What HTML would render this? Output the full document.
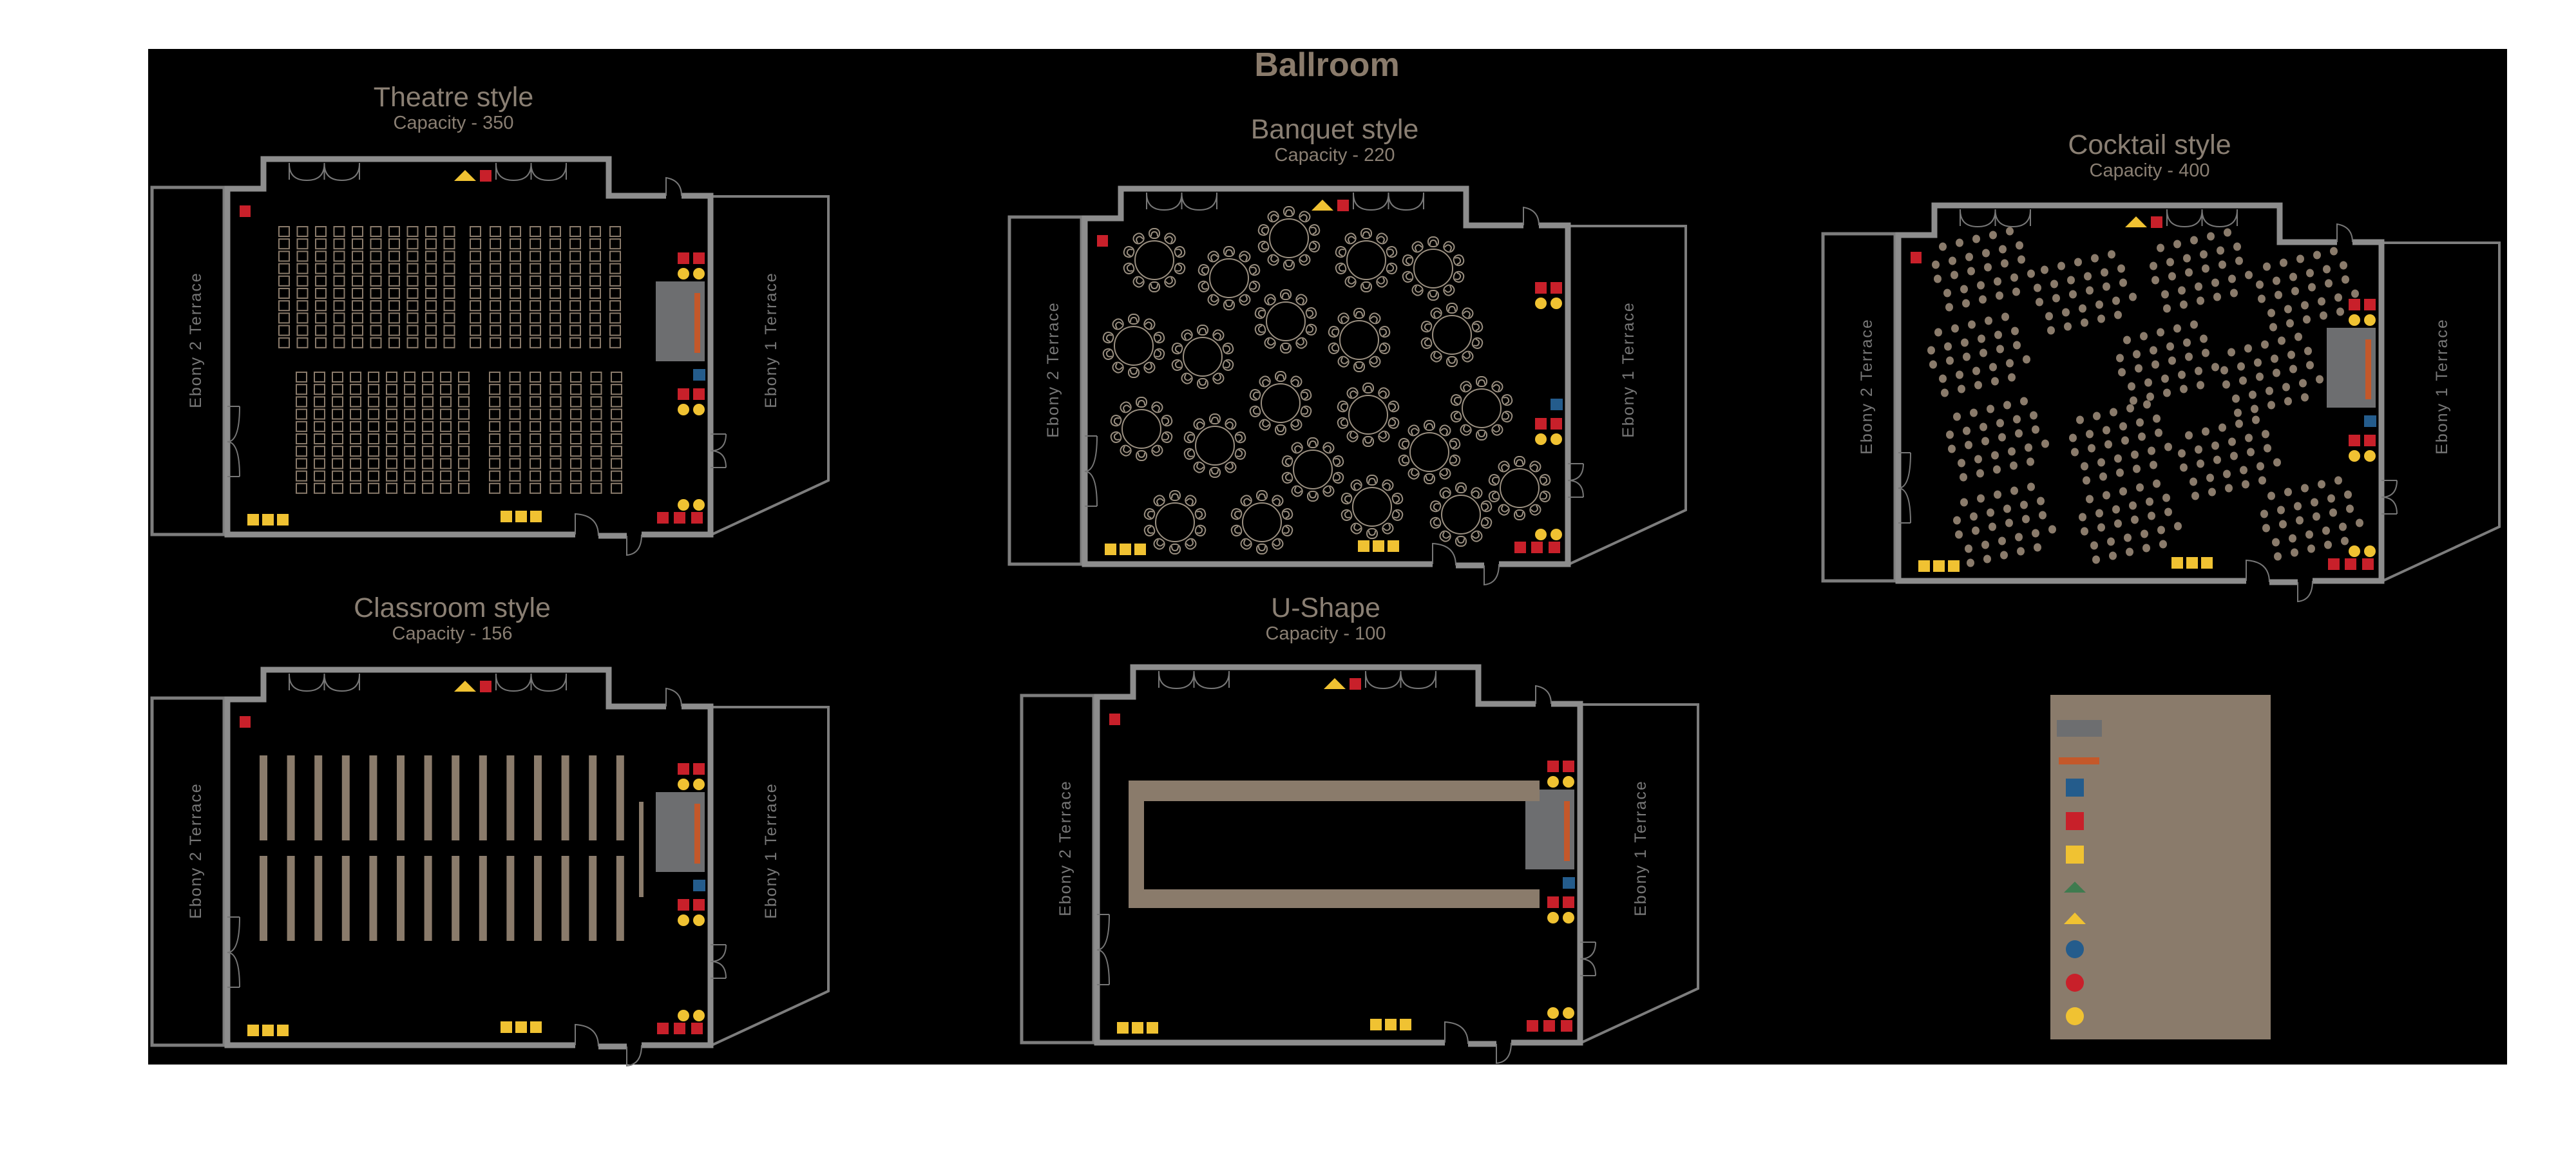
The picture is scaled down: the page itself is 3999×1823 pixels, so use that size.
<!DOCTYPE html>
<html><head><meta charset="utf-8">
<style>
html,body{margin:0;padding:0;background:#fff;}
svg{display:block;}
text{font-family:"Liberation Sans",sans-serif;}
</style></head>
<body>
<svg id="s" xmlns="http://www.w3.org/2000/svg" width="3999" height="1823" viewBox="0 0 3999 1823">
<rect x="0" y="0" width="3999" height="1823" fill="#fff"/>
<rect x="230" y="76" width="3662" height="1577" fill="#000"/>
<text x="2060" y="118" text-anchor="middle" font-size="52" font-weight="bold" fill="#8a7b6b">Ballroom</text>

<text x="704" y="165" text-anchor="middle" font-size="43" fill="#8a7f73">Theatre style</text>
<text x="704" y="200" text-anchor="middle" font-size="29" fill="#8a7f73">Capacity - 350</text>

<text x="2072" y="215" text-anchor="middle" font-size="43" fill="#8a7f73">Banquet style</text>
<text x="2072" y="250" text-anchor="middle" font-size="29" fill="#8a7f73">Capacity - 220</text>

<text x="3337" y="239" text-anchor="middle" font-size="43" fill="#8a7f73">Cocktail style</text>
<text x="3337" y="274" text-anchor="middle" font-size="29" fill="#8a7f73">Capacity - 400</text>

<text x="702" y="958" text-anchor="middle" font-size="43" fill="#8a7f73">Classroom style</text>
<text x="702" y="993" text-anchor="middle" font-size="29" fill="#8a7f73">Capacity - 156</text>

<text x="2058" y="958" text-anchor="middle" font-size="43" fill="#8a7f73">U-Shape</text>
<text x="2058" y="993" text-anchor="middle" font-size="29" fill="#8a7f73">Capacity - 100</text>

<g id="rooms"></g>

<g id="legend">
<rect x="3183" y="1079" width="342" height="535" fill="#8a7b6b"/>
<rect x="3193" y="1118" width="70" height="26" fill="#6d6e70"/>
<rect x="3196" y="1176" width="63" height="11" fill="#c4582a"/>
<rect x="3207" y="1209" width="28" height="28" fill="#245c8c"/>
<rect x="3207" y="1261" width="28" height="28" fill="#c8202a"/>
<rect x="3207" y="1313" width="28" height="28" fill="#f0c232"/>
<polygon points="3204,1386 3238,1386 3221,1369" fill="#3f7b4f"/>
<polygon points="3204,1435 3238,1435 3221,1417" fill="#f0c232"/>
<circle cx="3221" cy="1474" r="14" fill="#245c8c"/>
<circle cx="3221" cy="1526" r="14" fill="#c8202a"/>
<circle cx="3221" cy="1578" r="14" fill="#f0c232"/>
</g>
</svg>
<script>
(function(){
var R="#c8202a",Y="#f0c232",B="#245c8c",T="#8a7b6b",W="#8d8d8d";
function room(dx,dy,o){
 var s='<g transform="translate('+dx+','+dy+')">';
 // terraces
 s+='<rect x="236" y="291" width="112" height="539" fill="none" stroke="#7d7d7d" stroke-width="5"/>';
 s+='<polygon points="1105,305 1286,305 1286,746 1105,830" fill="none" stroke="#7d7d7d" stroke-width="4"/>';
 s+='<text transform="translate(312,528) rotate(-90)" text-anchor="middle" font-size="25" letter-spacing="2" fill="#777">Ebony 2 Terrace</text>';
 s+='<text transform="translate(1205,528) rotate(-90)" text-anchor="middle" font-size="25" letter-spacing="2" fill="#777">Ebony 1 Terrace</text>';
 // walls
 s+='<path d="M1034 304 H945 V247 H409 V293 H353 V830 H893 M929 832 H973 M996 830 H1103 V304 H1058" fill="none" stroke="'+W+'" stroke-width="9"/>';
 var d='stroke="#777" stroke-width="2" fill="none"';
 s+='<path d="M1034 304 V276 Q1058 280 1058 304" '+d+'/>';
 s+='<path d="M893 830 V798 Q929 800 929 832" '+d+'/>';
 s+='<path d="M973 832 V862 Q996 860 996 830" '+d+'/>';
 s+='<path d="M353 631 H372 M353 740 H372 M372 631 Q372 686 353 686 Q372 686 372 740" '+d+'/>';
 s+='<path d="M1103 674 H1127 M1103 726 H1127 M1127 674 Q1127 700 1103 700 Q1127 700 1127 726" '+d+'/>';
 [[449,558],[770,879]].forEach(function(p){var a=p[0],b=p[1],m=(a+b)/2;
  s+='<path d="M'+a+' 253 V279 M'+m+' 253 V279 M'+b+' 253 V279 M'+a+' 254 Q'+a+' 280 '+(a+m)/2+' 280 Q'+m+' 280 '+m+' 254 Q'+m+' 280 '+(m+b)/2+' 280 Q'+b+' 280 '+b+' 254" '+d+'/>';});
 // symbols
 s+='<polygon points="705,281 739,281 722,264" fill="'+Y+'"/>';
 s+='<rect x="745" y="264" width="18" height="18" fill="'+R+'"/>';
 s+='<rect x="372" y="319" width="17" height="18" fill="'+R+'"/>';
 s+='<rect x="1052" y="392" width="18" height="18" fill="'+R+'"/><rect x="1076" y="392" width="18" height="18" fill="'+R+'"/>';
 s+='<ellipse cx="1061" cy="425" rx="9" ry="9" fill="'+Y+'"/><ellipse cx="1085" cy="425" rx="9" ry="9" fill="'+Y+'"/>';
 if(o.stage){s+='<rect x="1018" y="437" width="76" height="124" fill="#6d6e70"/><rect x="1078" y="455" width="9" height="93" fill="#c4582a"/>';}
 s+='<rect x="1076" y="573" width="19" height="18" fill="'+B+'"/>';
 s+='<rect x="1052" y="603" width="18" height="18" fill="'+R+'"/><rect x="1076" y="603" width="18" height="18" fill="'+R+'"/>';
 s+='<ellipse cx="1061" cy="636" rx="9" ry="9" fill="'+Y+'"/><ellipse cx="1085" cy="636" rx="9" ry="9" fill="'+Y+'"/>';
 s+='<ellipse cx="1061" cy="784" rx="9" ry="9" fill="'+Y+'"/><ellipse cx="1085" cy="784" rx="9" ry="9" fill="'+Y+'"/>';
 s+='<rect x="1020" y="795" width="18" height="18" fill="'+R+'"/><rect x="1046" y="795" width="18" height="18" fill="'+R+'"/><rect x="1073" y="795" width="18" height="18" fill="'+R+'"/>';
 s+='<rect x="384" y="798" width="18" height="18" fill="'+Y+'"/><rect x="407" y="798" width="18" height="18" fill="'+Y+'"/><rect x="430" y="798" width="18" height="18" fill="'+Y+'"/>';
 s+='<rect x="777" y="793" width="18" height="18" fill="'+Y+'"/><rect x="800" y="793" width="18" height="18" fill="'+Y+'"/><rect x="823" y="793" width="18" height="18" fill="'+Y+'"/>';
 if(o.extra)s+=o.extra();
 s+='</g>';
 return s;
}
function theatre(){
 var s='',st='fill="none" stroke="'+T+'" stroke-width="2"';
 function block(xs,y0){for(var r=0;r<10;r++)xs.forEach(function(x){s+='<rect x="'+x+'" y="'+(y0+r*19.2)+'" width="16" height="15" '+st+'/>';});}
 var t=[],i;
 for(i=0;i<10;i++)t.push(433+i*28.5);
 for(i=0;i<8;i++)t.push(730+i*31);
 block(t,352);
 var b=[];
 for(i=0;i<10;i++)b.push(460+i*28);
 for(i=0;i<7;i++)b.push(760+i*31.5);
 block(b,578);
 return s;
}
function classroom(){
 var s='';
 for(var i=0;i<14;i++){var x=403+i*42.6;
  s+='<rect x="'+x+'" y="380" width="12" height="132" fill="'+T+'"/>';
  s+='<rect x="'+x+'" y="536" width="12" height="132" fill="'+T+'"/>';}
 s+='<rect x="992" y="452" width="7" height="148" fill="'+T+'"/>';
 return s;
}
function ushape(){
 return '<path d="M1040 423 H402 V621 H1040 V592 H426 V455 H1040 Z" fill="'+T+'"/>';
}
function banquet(){
 var c=[[1792,402],[1908,430],[2001,368],[2121,402],[2225,415],[1760,535],[1867,552],[1996,497],[2110,526],[2254,518],[1772,664],[1886,690],[1988,624],[2124,642],[2300,632],[2219,700],[2038,727],[1824,809],[1959,809],[2130,785],[2268,797],[2359,756]];
 var s='',st='fill="none" stroke="#9a8f80" stroke-width="2"';
 c.forEach(function(p){var x=p[0]-1331,y=p[1]-44;
  s+='<circle cx="'+x+'" cy="'+y+'" r="30" '+st+'/>';
  for(var k=0;k<10;k++){var a=k*Math.PI/5+Math.PI/10*0;var cx=x+41*Math.sin(a),cy=y-41*Math.cos(a);var deg=k*36;
   s+='<g transform="translate('+cx.toFixed(1)+','+cy.toFixed(1)+') rotate('+deg+')"><rect x="-8" y="-8" width="16" height="15" rx="7" '+st+'/><path d="M-5 4 Q-5 -3 0 -3 Q5 -3 5 4" '+st+'/></g>';}
 });
 return s;
}
function cocktail(){
 var c=[[3073,418],[3231,454],[3411,420],[3576,449],[3066,551],[3359,563],[3521,582],[3095,682],[3286,687],[3455,711],[3106,815],[3301,810],[3583,805]];
 var s='';
 c.forEach(function(p){var x0=p[0]-2594,y0=p[1]-72;
  for(var r=0;r<5;r++)for(var q=0;q<6;q++){
   if((r==0&&q==0)||(r==4&&q==5))continue;
   var x=x0+(q-2.5)*26+(r-2)*9+((r%2)?6:0),y=y0+(r-2)*22-(q-2.5)*6;
   s+='<ellipse cx="'+x.toFixed(1)+'" cy="'+y.toFixed(1)+'" rx="6" ry="6.5" fill="'+T+'"/>';}
 });
 return s;
}
var h='';
h+=room(0,0,{stage:true,extra:theatre});
h+=room(1331,46,{stage:false,extra:banquet});
h+=room(2594,72,{stage:true,extra:cocktail});
h+=room(0,793,{stage:true,extra:classroom});
h+=room(1350,789,{stage:true,extra:ushape});
document.getElementById('rooms').innerHTML=h;
})();
</script>
</body></html>
